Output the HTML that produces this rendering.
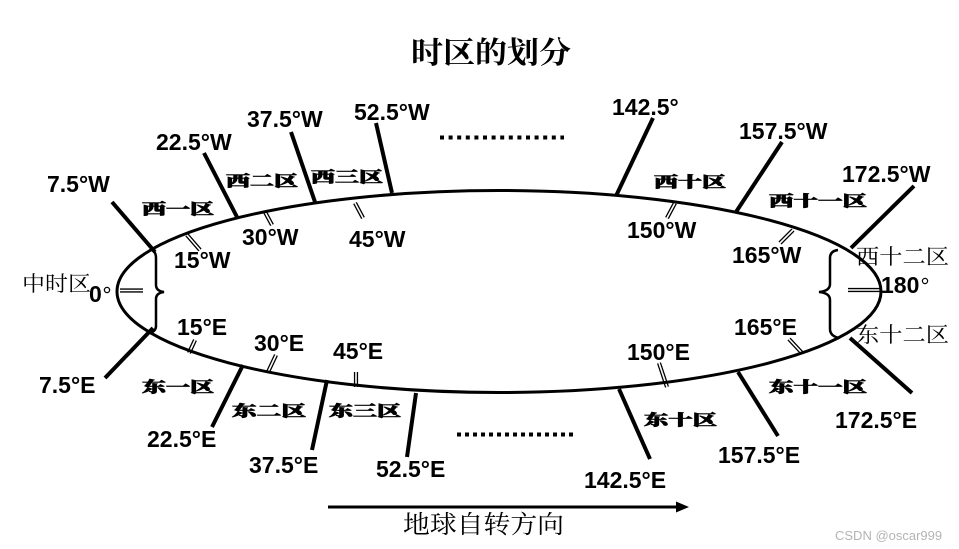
<!DOCTYPE html>
<html><head><meta charset="utf-8"><style>
html,body{margin:0;padding:0;background:#fff;}
svg{display:block;}
.n{font-family:"Liberation Sans",Arial,sans-serif;font-weight:bold;font-size:23px;fill:#000;}
.z{font-family:"Liberation Serif","Noto Serif CJK SC",serif;font-weight:900;font-size:15px;fill:#000;stroke:#000;stroke-width:0.7;}
.c{font-family:"Liberation Serif","Noto Serif CJK SC",serif;fill:#000;}
</style></head><body>
<svg width="959" height="549" viewBox="0 0 959 549" xmlns="http://www.w3.org/2000/svg">
<rect width="959" height="549" fill="#fff"/>
<!-- title -->
<text class="c" x="411" y="63" font-size="30" font-weight="700" textLength="160" lengthAdjust="spacingAndGlyphs">时区的划分</text>

<!-- double ticks -->
<g stroke-linecap="butt">
<g stroke="#000" stroke-width="4.2">
<line x1="187" y1="235" x2="200" y2="250"/>
<line x1="265" y1="212" x2="272" y2="225"/>
<line x1="355" y1="203" x2="363" y2="218"/>
<line x1="675" y1="203" x2="667" y2="218"/>
<line x1="793" y1="230" x2="780" y2="243"/>
<line x1="195" y1="340" x2="189" y2="353"/>
<line x1="276" y1="355" x2="268" y2="372"/>
<line x1="356" y1="372" x2="356" y2="387"/>
<line x1="659" y1="363" x2="667" y2="387"/>
<line x1="789" y1="339" x2="802" y2="353"/>
<line x1="120" y1="290.5" x2="143" y2="290.5"/>
<line x1="848" y1="290" x2="880" y2="290"/>
</g>
<g stroke="#fff" stroke-width="1.6">
<line x1="187" y1="235" x2="200" y2="250"/>
<line x1="265" y1="212" x2="272" y2="225"/>
<line x1="355" y1="203" x2="363" y2="218"/>
<line x1="675" y1="203" x2="667" y2="218"/>
<line x1="793" y1="230" x2="780" y2="243"/>
<line x1="195" y1="340" x2="189" y2="353"/>
<line x1="276" y1="355" x2="268" y2="372"/>
<line x1="356" y1="372" x2="356" y2="387"/>
<line x1="659" y1="363" x2="667" y2="387"/>
<line x1="789" y1="339" x2="802" y2="353"/>
<line x1="120" y1="290.5" x2="143" y2="290.5"/>
<line x1="848" y1="290" x2="880" y2="290"/>
</g>
</g>

<!-- ellipse -->
<ellipse cx="499" cy="291.5" rx="382" ry="101" fill="none" stroke="#000" stroke-width="3"/>

<!-- braces -->
<path d="M152,250 Q156,252 156,258 L156,285 Q156,291 164,292 Q156,293 156,299 L156,326 Q156,331 150,333" fill="none" stroke="#000" stroke-width="2.5"/>
<path d="M838,250 Q830,251 830,258 L830,284 Q830,291 819,292 Q830,293 830,300 L830,329 Q830,336 839,338" fill="none" stroke="#000" stroke-width="2.5"/>

<!-- thick meridian lines -->
<g stroke="#000" stroke-width="4" stroke-linecap="butt">
<line x1="112" y1="202" x2="155" y2="252"/>
<line x1="204" y1="153" x2="237" y2="217"/>
<line x1="291" y1="132" x2="315" y2="202"/>
<line x1="376" y1="123" x2="392" y2="193"/>
<line x1="653" y1="118" x2="616" y2="196"/>
<line x1="782" y1="142" x2="736" y2="212"/>
<line x1="914" y1="186" x2="851" y2="248"/>
<line x1="105" y1="378" x2="153" y2="328"/>
<line x1="212" y1="427" x2="243" y2="365"/>
<line x1="312" y1="450" x2="327" y2="380"/>
<line x1="407" y1="457" x2="416" y2="393"/>
<line x1="650" y1="459" x2="619" y2="389"/>
<line x1="778" y1="436" x2="738" y2="372"/>
<line x1="912" y1="393" x2="850" y2="338"/>
</g>

<!-- dotted rows -->
<line x1="440" y1="137.5" x2="564" y2="137.5" stroke="#000" stroke-width="4" stroke-dasharray="4 4.6"/>
<line x1="457" y1="434.5" x2="573" y2="434.5" stroke="#000" stroke-width="4" stroke-dasharray="4 4"/>

<!-- arrow -->
<line x1="328" y1="507" x2="679" y2="507" stroke="#000" stroke-width="3"/>
<polygon points="676,501.5 689,507 676,512.5" fill="#000"/>
<text class="c" x="403" y="533" font-size="25" textLength="161" lengthAdjust="spacingAndGlyphs">地球自转方向</text>

<!-- number labels -->
<text class="n" x="47" y="192">7.5°W</text>
<text class="n" x="156" y="150">22.5°W</text>
<text class="n" x="247" y="127">37.5°W</text>
<text class="n" x="354" y="120">52.5°W</text>
<text class="n" x="174" y="268">15°W</text>
<text class="n" x="242" y="245">30°W</text>
<text class="n" x="349" y="247">45°W</text>
<text class="n" x="612" y="115">142.5°</text>
<text class="n" x="739" y="139">157.5°W</text>
<text class="n" x="842" y="182">172.5°W</text>
<text class="n" x="627" y="238">150°W</text>
<text class="n" x="732" y="263">165°W</text>

<text class="n" x="177" y="335">15°E</text>
<text class="n" x="254" y="351">30°E</text>
<text class="n" x="333" y="359">45°E</text>
<text class="n" x="39" y="393">7.5°E</text>
<text class="n" x="147" y="447">22.5°E</text>
<text class="n" x="249" y="473">37.5°E</text>
<text class="n" x="376" y="477">52.5°E</text>
<text class="n" x="584" y="488">142.5°E</text>
<text class="n" x="718" y="463">157.5°E</text>
<text class="n" x="835" y="428">172.5°E</text>
<text class="n" x="627" y="360">150°E</text>
<text class="n" x="734" y="335">165°E</text>

<!-- 0 and 180 -->
<text class="n" x="89" y="302" font-size="21">0</text>
<circle cx="107" cy="290" r="2.6" fill="none" stroke="#000" stroke-width="1.3"/>
<text class="n" x="881" y="293" font-size="21">180</text>
<circle cx="925" cy="281" r="2.6" fill="none" stroke="#000" stroke-width="1.2"/>

<!-- CJK regular labels -->
<text class="c" x="22" y="291" font-size="21" textLength="69" lengthAdjust="spacingAndGlyphs">中时区</text>
<text class="c" x="856" y="264" font-size="21" textLength="93" lengthAdjust="spacingAndGlyphs">西十二区</text>
<text class="c" x="856" y="342" font-size="21" textLength="93" lengthAdjust="spacingAndGlyphs">东十二区</text>

<!-- zone labels (bold, stretched) -->
<text class="z" x="142" y="214" textLength="72" lengthAdjust="spacingAndGlyphs">西一区</text>
<text class="z" x="226" y="186" textLength="72" lengthAdjust="spacingAndGlyphs">西二区</text>
<text class="z" x="311" y="182" textLength="72" lengthAdjust="spacingAndGlyphs">西三区</text>
<text class="z" x="654" y="187" textLength="72" lengthAdjust="spacingAndGlyphs">西十区</text>
<text class="z" x="769" y="206" textLength="98" lengthAdjust="spacingAndGlyphs">西十一区</text>
<text class="z" x="142" y="392" textLength="72" lengthAdjust="spacingAndGlyphs">东一区</text>
<text class="z" x="232" y="416" textLength="74" lengthAdjust="spacingAndGlyphs">东二区</text>
<text class="z" x="329" y="416" textLength="72" lengthAdjust="spacingAndGlyphs">东三区</text>
<text class="z" x="644" y="425" textLength="73" lengthAdjust="spacingAndGlyphs">东十区</text>
<text class="z" x="769" y="392" textLength="98" lengthAdjust="spacingAndGlyphs">东十一区</text>

<!-- watermark -->
<text x="835" y="540" font-family="Liberation Sans, Arial, sans-serif" font-size="13" fill="#b4b4b4">CSDN @oscar999</text>
</svg>
</body></html>
